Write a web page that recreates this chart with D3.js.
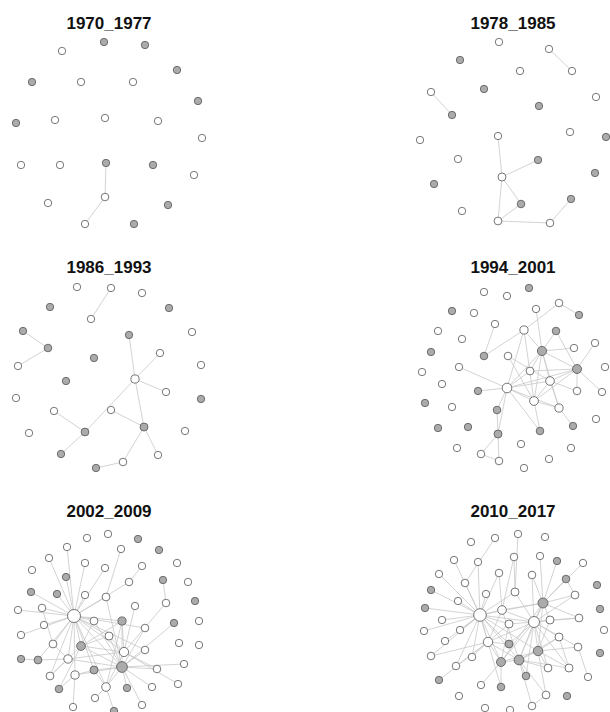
<!DOCTYPE html>
<html lang="en">
  <head>
    <meta charset="UTF-8" />
    <title>Collaboration networks by period</title>
    <style>
      body { margin: 0; background: #fff; }
      .title { font-family: "Liberation Sans", Arial, sans-serif; font-weight: bold; font-size: 17px; fill: #111; }
    </style>
  </head>
  <body>
    <div class="chart"></div>
    <script src="https://d3js.org/d3.v7.min.js"></script>
    <script>

    // period labels, in reading order
    var periods = ["1970_1977", "1978_1985", "1986_1993", "1994_2001", "2002_2009", "2010_2017"];

    // node layout per period: [x, y, group] in layout units (0..220), group 1 = grey
    var nodes1970 = [
      [62,51,0],[104,42,1],[145,45,1],[177,70,1],[32,82,1],[81,82,0],[133,82,0],[198,101,1],
      [16,123,1],[55,120,0],[105,118,0],[158,121,0],[202,138,0],[21,165,0],[60,165,0],[106,163,1],
      [153,165,1],[194,175,0],[48,203,0],[105,197,0],[168,205,1],[85,224,0],[134,224,1]
    ];
    var links1970 = [[15,19],[19,21]];

    var nodes1978 = [
      [95,42,0],[145,49,0],[56,60,1],[116,71,0],[168,71,0],[80,89,1],[27,92,0],[192,97,0],
      [135,106,1],[48,115,1],[16,140,0],[94,136,0],[166,132,0],[202,137,1],[54,159,0],[134,160,1],
      [98,177,0],[191,173,1],[30,184,1],[117,204,1],[167,199,1],[58,211,0],[94,221,0],[146,223,0]
    ];
    var links1978 = [[1,4],[6,9],[11,16],[15,16],[16,19],[16,22],[19,22],[22,23],[23,20]];

    var nodes1986 = [
      [77,43,0],[111,44,0],[142,49,0],[50,63,1],[169,64,1],[91,75,0],[23,87,1],[192,88,0],
      [129,91,1],[48,104,1],[160,109,0],[18,122,0],[94,114,1],[201,121,0],[66,137,1],[135,135,0],
      [166,148,0],[16,154,0],[201,155,1],[54,167,0],[111,166,0],[144,183,1],[29,189,0],[85,188,1],
      [185,187,0],[61,210,1],[158,211,0],[123,218,0],[96,224,1]
    ];
    var links1986 = [[1,5],[6,9],[9,11],[8,15],[15,21],[10,15],[15,16],[15,23],[20,21],[19,23],
      [23,25],[21,27],[21,26],[27,28]];

    var nodes1994 = [
      [125,44,1],[80,48,0],[103,52,0],[155,59,0],[48,67,1],[70,69,0],[132,65,0],[175,71,1],
      [91,80,0],[34,87,0],[120,86,0],[152,87,1],[58,95,0],[191,99,0],[27,108,1],[80,112,1],
      [104,112,0],[138,107,1],[170,104,0],[55,123,0],[126,127,0],[173,125,1],[201,123,0],[18,128,0],
      [38,140,0],[146,137,0],[103,144,0],[74,147,1],[173,147,0],[198,148,0],[21,159,1],[48,163,0],
      [130,157,0],[155,164,0],[93,166,1],[192,175,0],[34,184,1],[64,183,1],[94,190,1],[136,187,1],
      [169,182,1],[117,200,0],[53,204,0],[77,210,0],[167,204,0],[95,217,0],[145,215,0],[120,224,0]
    ];
    var links1994 = [[3,7],[3,10],[6,17],[10,15],[10,17],[10,26],[10,32],[8,15],[11,17],[11,21],
      [18,17],[13,21],[16,25],[19,26],[27,26],[26,17],[26,20],[26,25],[26,21],[26,32],[26,38],
      [26,39],[26,34],[26,33],[17,25],[17,32],[17,21],[17,20],[17,33],[20,21],[25,21],[25,28],
      [25,32],[25,33],[21,29],[21,32],[21,28],[32,33],[32,39],[33,40],[38,43],[38,45],[43,45],
      [34,38],[16,32]];

    var nodes2002 = [
      [87,50,0],[108,46,0],[138,51,1],[67,59,0],[121,61,0],[159,62,1],[49,70,0],[85,75,0],
      [105,80,0],[142,78,0],[177,75,0],[32,82,0],[66,89,1],[163,92,1],[129,94,0],[188,94,0],
      [31,104,1],[57,106,1],[85,107,0],[106,109,0],[195,113,1],[18,122,0],[42,120,0],[135,118,0],
      [166,115,0],[74,128,0],[94,133,0],[122,133,1],[174,135,1],[199,133,0],[44,137,0],[145,140,0],
      [21,147,0],[109,148,0],[179,155,0],[199,157,0],[53,156,0],[81,158,1],[124,164,0],[145,162,0],
      [21,171,1],[38,172,1],[68,171,0],[184,176,0],[122,179,1],[94,182,1],[157,181,0],[50,188,0],
      [75,187,0],[178,196,0],[106,199,0],[127,200,1],[152,199,0],[59,201,1],[95,210,0],[73,219,0],
      [142,217,0],[114,223,1]
    ];
    var links2002 = [[25,3],[25,6],[25,12],[25,7],[25,8],[25,16],[25,17],[25,18],[25,19],[25,21],
      [25,22],[25,26],[25,30],[25,32],[25,36],[25,37],[25,42],[25,38],[25,44],[25,45],[25,47],
      [25,48],[25,50],[25,33],[25,27],[25,41],[25,14],[25,31],[25,39],[23,38],[24,38],[28,44],
      [27,44],[27,38],[27,50],[31,44],[39,44],[43,44],[46,44],[52,44],[56,44],[54,50],[57,50],
      [51,44],[40,41],[41,42],[47,37],[47,42],[53,37],[53,48],[37,38],[37,44],[37,33],[37,27],
      [42,44],[45,44],[48,44],[50,44],[50,38],[33,44],[33,38],[26,44],[19,44],[9,14],[4,19],
      [13,24],[22,36],[36,42],[38,46],[38,49],[26,37],[48,45],[55,48],[45,50],[42,38]];

    var nodes2010 = [
      [67,54,0],[91,50,0],[114,46,0],[141,49,0],[50,72,0],[74,74,0],[110,69,0],[136,68,0],
      [153,73,1],[179,75,0],[35,86,0],[95,85,0],[128,87,0],[162,91,1],[61,95,0],[193,97,1],
      [27,102,1],[82,106,0],[111,104,0],[139,115,1],[171,107,0],[54,113,0],[21,120,1],[196,121,1],
      [76,127,0],[98,122,0],[130,134,0],[38,132,0],[105,136,0],[146,132,0],[175,130,0],[20,143,0],
      [56,142,0],[200,142,0],[155,149,0],[41,153,0],[84,154,0],[105,156,1],[134,163,1],[174,159,0],
      [196,165,1],[27,168,0],[68,169,0],[97,174,1],[115,172,1],[144,180,0],[165,180,0],[52,178,0],
      [122,188,1],[184,189,0],[35,192,1],[77,197,0],[97,199,1],[142,207,0],[163,208,1],[55,208,0],
      [81,220,0],[106,222,0],[128,218,0]
    ];
    var links2010 = [[24,4],[24,5],[24,10],[24,14],[24,16],[24,17],[24,21],[24,22],[24,27],[24,31],
      [24,32],[24,35],[24,41],[24,42],[24,25],[24,18],[24,36],[24,43],[24,44],[24,37],[24,28],
      [24,26],[24,38],[24,52],[24,47],[24,19],[24,11],[26,19],[26,29],[26,30],[26,20],[26,12],
      [26,18],[26,25],[26,34],[26,38],[26,44],[26,43],[26,37],[26,28],[26,36],[26,45],[26,46],
      [26,48],[26,39],[44,36],[44,43],[44,38],[44,25],[44,19],[44,45],[44,46],[44,34],[44,48],
      [44,53],[44,58],[43,36],[43,52],[43,38],[43,19],[43,28],[43,51],[38,19],[38,29],[38,34],
      [38,39],[38,45],[38,46],[19,8],[19,13],[19,12],[19,7],[19,20],[19,25],[19,29],[19,30],
      [25,11],[25,6],[25,36],[36,28],[36,37],[6,18],[2,18],[47,36],[42,36],[41,36],[50,36],
      [53,38],[58,53],[1,14],[29,30],[39,49],[46,34],[20,13],[9,19]];

    var nodeSets = [nodes1970, nodes1978, nodes1986, nodes1994, nodes2002, nodes2010];
    var linkSets = [links1970, links1978, links1986, links1994, links2002, links2010];

    var w = 610, h = 712;
    var panelW = 220, panelH = 244;

    var svg = d3.select(".chart").append("svg")
      .attr("width", w)
      .attr("height", h);

    // panel grid: 2 columns, 3 rows
    var col = d3.scaleOrdinal().domain([0, 1]).range([0, 404]);
    var row = d3.scaleOrdinal().domain([0, 1, 2]).range([0, 244, 488]);

    // layout units -> pixels inside a panel
    var x = d3.scaleLinear().domain([0, 220]).range([0, panelW]);
    var y = d3.scaleLinear().domain([0, 244]).range([0, panelH]);

    // node size grows with its number of links
    var radius = d3.scaleLinear().domain([1, 30]).range([3.7, 6.6]).clamp(true);

    periods.forEach(function(p, i) {
      var nodes = nodeSets[i], links = linkSets[i];
      var degree = nodes.map(function() { return 0; });
      links.forEach(function(l) { degree[l[0]]++; degree[l[1]]++; });

      var g = svg.append("g")
        .attr("transform", "translate(" + col(i % 2) + "," + row(Math.floor(i / 2)) + ")");

      g.append("text")
        .attr("class", "title")
        .attr("x", x(109))
        .attr("y", y(29))
        .attr("text-anchor", "middle")
        .text(p);

      g.selectAll("line")
        .data(links)
        .enter()
        .append("line")
        .attr("x1", function(d) { return x(nodes[d[0]][0]); })
        .attr("y1", function(d) { return y(nodes[d[0]][1]); })
        .attr("x2", function(d) { return x(nodes[d[1]][0]); })
        .attr("y2", function(d) { return y(nodes[d[1]][1]); })
        .attr("stroke", "#c8c8c8")
        .attr("stroke-width", 0.8);

      g.selectAll("circle")
        .data(nodes)
        .enter()
        .append("circle")
        .attr("cx", function(d) { return x(d[0]); })
        .attr("cy", function(d) { return y(d[1]); })
        .attr("r", function(d, j) { return radius(degree[j]); })
        .attr("fill", function(d) { return d[2] ? "#ababab" : "#fff"; })
        .attr("stroke", "#555")
        .attr("stroke-width", 0.8);
    });

    </script>
  </body>
</html>
